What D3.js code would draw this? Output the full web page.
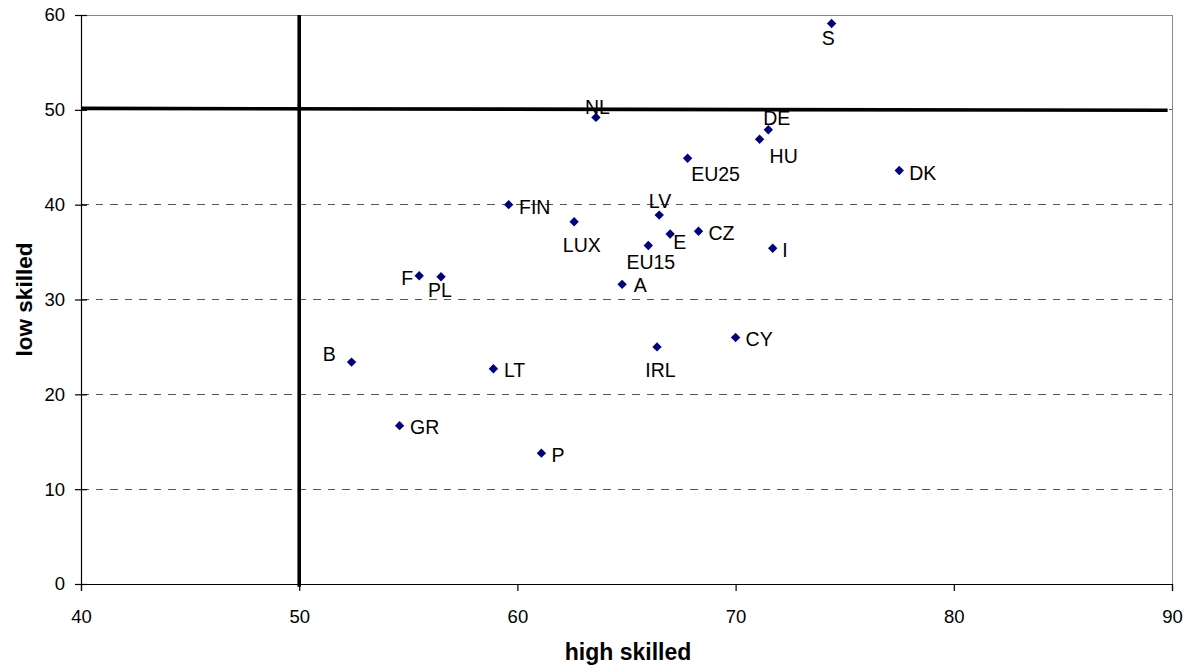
<!DOCTYPE html>
<html>
<head>
<meta charset="utf-8">
<script src="https://cdn.jsdelivr.net/npm/d3@7"></script>
<style>
  html, body { margin: 0; padding: 0; background: #fff; }
  svg { display: block; font-family: Arial, "Liberation Sans", sans-serif; }
</style>
</head>
<body>
<svg id="chart" width="1194" height="668"></svg>
<script>
// ---- data ----
const countries   = ["S","NL","DE","HU","EU25","DK","FIN","LV","LUX","CZ","E","EU15","I","F","PL","A","CY","IRL","B","LT","GR","P"];
const highSkilled = [74.4,63.6,71.5,71.1,67.8,77.5,59.6,66.5,62.6,68.3,67.0,66.0,71.7,55.5,56.5,64.8,70.0,66.4,52.4,58.9,54.6,61.1];
const lowSkilled  = [59.1,49.2,47.9,46.9,44.9,43.6,40.0,38.9,38.2,37.2,36.9,35.7,35.4,32.5,32.4,31.6,26.0,25.0,23.4,22.7,16.7,13.8];
const xTicks = [40,50,60,70,80,90];
const yTicks = [0,10,20,30,40,50,60];
const gridValues = [10,20,30,40,50];
// reference (threshold) lines, in data units
const refX1 = [40, 50];
const refY1 = [50.15, 60];
const refX2 = [89.8, 50];
const refY2 = [49.95, -0.3];
const xTitle = "high skilled";
const yTitle = "low skilled";

// ---- label layout (anchor, dx, dy in px relative to the point) ----
const labelLayout = {
  S:["middle",-3.4,21.7], NL:["middle",1.5,-3], DE:["middle",8.4,-5], HU:["start",10,23.3],
  EU25:["start",3.6,23], DK:["start",10,9], FIN:["start",10.3,9.4], LV:["middle",0.8,-6.7],
  LUX:["middle",7.7,30.6], CZ:["start",10,8.7], E:["start",3,15.3], EU15:["middle",2.5,24],
  I:["start",9.6,8.4], F:["end",-6,9.3], PL:["middle",-1,20], A:["start",11.5,8],
  CY:["start",10,9], IRL:["middle",3.4,29.7], B:["end",-15.7,-0.6], LT:["start",10.5,8.7],
  GR:["start",10.5,8.3], P:["start",10,9]
};

const svg = d3.select("#chart");
const L = 81, R = 1172, T = 15, B = 584;

const x = d3.scaleLinear().domain([40, 90]).range([L, R]);
const y = d3.scaleLinear().domain([0, 60]).range([B, T]);

// gridlines
svg.append("g").selectAll("line").data(gridValues).join("line")
  .attr("x1", L).attr("x2", R)
  .attr("y1", d => y(d)).attr("y2", d => y(d))
  .attr("stroke", "#555").attr("stroke-width", 1)
  .attr("stroke-dasharray", "7.5,7")
  .attr("shape-rendering", "crispEdges");

// plot border (top, right) grey
svg.append("line").attr("x1", L).attr("x2", R).attr("y1", T).attr("y2", T)
  .attr("stroke", "#888").attr("stroke-width", 1).attr("shape-rendering", "crispEdges");
svg.append("line").attr("x1", R).attr("x2", R).attr("y1", T).attr("y2", B)
  .attr("stroke", "#888").attr("stroke-width", 1).attr("shape-rendering", "crispEdges");

// axes
const gx = svg.append("g").attr("transform", `translate(0,${B})`)
  .call(d3.axisBottom(x).tickValues(xTicks).tickSize(7).tickPadding(19).tickFormat(d3.format("d")));
const gy = svg.append("g").attr("transform", `translate(${L},0)`)
  .call(d3.axisLeft(y).tickValues(yTicks).tickSize(6).tickPadding(10).tickFormat(d3.format("d")));
gy.selectAll(".tick line").attr("x1", 6);
[gx, gy].forEach(g => {
  g.select(".domain").attr("stroke", "#000").attr("stroke-width", 1.2);
  g.selectAll(".tick line").attr("stroke", "#000").attr("stroke-width", 1.2);
  g.selectAll("text").attr("font-family", "Arial, 'Liberation Sans', sans-serif")
    .attr("font-size", "18.5px").attr("fill", "#000");
});

// reference lines
svg.append("g").selectAll("line").data(refX1).join("line")
  .attr("x1", (d, i) => x(refX1[i])).attr("y1", (d, i) => y(refY1[i]))
  .attr("x2", (d, i) => x(refX2[i])).attr("y2", (d, i) => y(refY2[i]))
  .attr("stroke", "#000").attr("stroke-width", 3.6);

// points
const pts = countries.map((c, i) => ({ c, hx: highSkilled[i], ly: lowSkilled[i] }));
const r = 4.7;
svg.append("g").selectAll("path").data(pts).join("path")
  .attr("d", d => {
    const cx = x(d.hx), cy = y(d.ly);
    return `M${cx},${cy - r}L${cx + r},${cy}L${cx},${cy + r}L${cx - r},${cy}Z`;
  })
  .attr("fill", "#000080");

// labels
svg.append("g").selectAll("text").data(pts).join("text")
  .attr("x", d => x(d.hx) + labelLayout[d.c][1])
  .attr("y", d => y(d.ly) + labelLayout[d.c][2])
  .attr("text-anchor", d => labelLayout[d.c][0])
  .attr("font-size", "19.5px").attr("fill", "#000")
  .text(d => d.c);

// axis titles
svg.append("text").attr("x", 628).attr("y", 660).attr("text-anchor", "middle")
  .attr("font-size", "23px").attr("font-weight", "bold").text(xTitle);
svg.append("text").attr("transform", "translate(31.5,299.5) rotate(-90)")
  .attr("text-anchor", "middle").attr("font-size", "22.5px").attr("font-weight", "bold").text(yTitle);
</script>
</body>
</html>
